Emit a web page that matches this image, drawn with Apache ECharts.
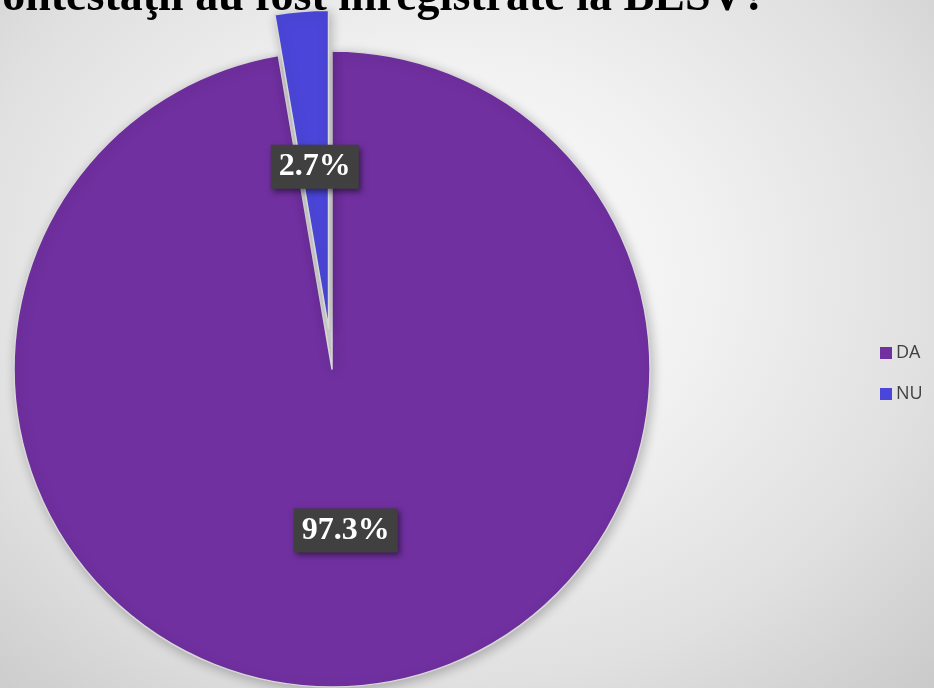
<!DOCTYPE html>
<html>
<head>
<meta charset="utf-8">
<script src="https://cdn.jsdelivr.net/npm/echarts@6/dist/echarts.min.js"></script>
<style>
html,body{margin:0;padding:0;width:934px;height:688px;overflow:hidden;}
body{background: radial-gradient(ellipse 75% 85% at 48% 40%, #fcfcfc 0%, #f2f2f2 35%, #e0e0e0 70%, #c9c9c9 100%);}
#c{width:934px;height:688px;}
</style>
</head>
<body>
<div id="c"></div>
<script>
const titleText = "Contestaţii au fost înregistrate la BESV?";
const categories = ["DA", "NU"];
const values = [97.3, 2.7];
const colors = ["#7030A0", "#4B46D9"];

const chart = echarts.init(document.getElementById('c'), null, {renderer: 'canvas'});
const data = categories.map((c, i) => ({
  name: c,
  value: values[i],
  selected: c === "NU",
  itemStyle: {color: colors[i]}
}));
chart.setOption({
  backgroundColor: 'transparent',
  animation: false,
  graphic: [{
    type: 'text',
    left: -31,
    top: -25,
    z: 10,
    style: {
      text: titleText,
      font: 'bold 46px "Liberation Serif", "Times New Roman", serif',
      fill: '#000'
    }
  }],
  legend: {
    orient: 'vertical',
    left: 875,
    top: 339,
    itemWidth: 12,
    itemHeight: 12,
    itemGap: 23,
    itemStyle: {borderWidth: 0},
    icon: 'rect',
    data: categories,
    textStyle: {color: '#404040', fontSize: 18, fontFamily: '"Open Sans", Lato, sans-serif', padding: [0,0,0,-1]}
  },
  series: [{
    type: 'pie',
    center: [332, 369],
    radius: [0, 318],
    startAngle: 90,
    clockwise: true,
    selectedMode: 'single',
    selectedOffset: 41,
    avoidLabelOverlap: false,
    itemStyle: {
      borderColor: '#d8d8d8',
      borderWidth: 1.5,
      shadowBlur: 12,
      shadowColor: 'rgba(0,0,0,0.25)',
      shadowOffsetX: 2,
      shadowOffsetY: 3
    },
    label: {
      show: true,
      position: 'inside',
      formatter: p => p.value.toFixed(1) + '%',
      color: '#fff',
      fontFamily: '"Liberation Serif", "Times New Roman", serif',
      fontWeight: 'bold',
      fontSize: 32,
      backgroundColor: '#404040',
      padding: [7, 8, 5, 8],
      shadowBlur: 6,
      shadowColor: 'rgba(0,0,0,0.5)',
      shadowOffsetX: 2,
      shadowOffsetY: 3
    },
    labelLine: {show: false},
    emphasis: {disabled: true},
    data: data
  }]
});
</script>
</body>
</html>
